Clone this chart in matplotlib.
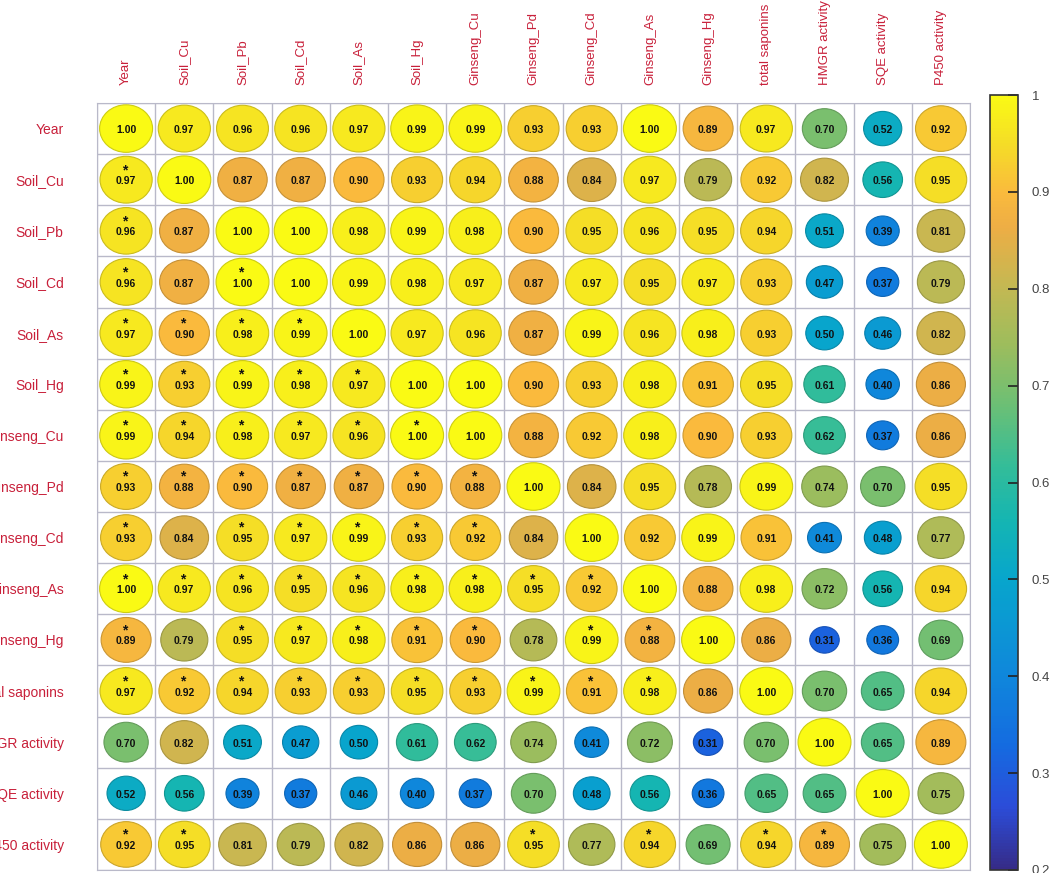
import numpy as np
import matplotlib
matplotlib.use("Agg")
import matplotlib.pyplot as plt
from matplotlib.patches import Ellipse
from matplotlib.colors import LinearSegmentedColormap, Normalize

plt.rcParams['font.family'] = ['Liberation Sans', 'DejaVu Sans']

labels = ['Year', 'Soil_Cu', 'Soil_Pb', 'Soil_Cd', 'Soil_As', 'Soil_Hg',
          'Ginseng_Cu', 'Ginseng_Pd', 'Ginseng_Cd', 'Ginseng_As', 'Ginseng_Hg',
          'total saponins', 'HMGR activity', 'SQE activity', 'P450 activity']

# upper triangle (row i, columns i..14)
upper = [
    [1.00, 0.97, 0.96, 0.96, 0.97, 0.99, 0.99, 0.93, 0.93, 1.00, 0.89, 0.97, 0.70, 0.52, 0.92],
    [1.00, 0.87, 0.87, 0.90, 0.93, 0.94, 0.88, 0.84, 0.97, 0.79, 0.92, 0.82, 0.56, 0.95],
    [1.00, 1.00, 0.98, 0.99, 0.98, 0.90, 0.95, 0.96, 0.95, 0.94, 0.51, 0.39, 0.81],
    [1.00, 0.99, 0.98, 0.97, 0.87, 0.97, 0.95, 0.97, 0.93, 0.47, 0.37, 0.79],
    [1.00, 0.97, 0.96, 0.87, 0.99, 0.96, 0.98, 0.93, 0.50, 0.46, 0.82],
    [1.00, 1.00, 0.90, 0.93, 0.98, 0.91, 0.95, 0.61, 0.40, 0.86],
    [1.00, 0.88, 0.92, 0.98, 0.90, 0.93, 0.62, 0.37, 0.86],
    [1.00, 0.84, 0.95, 0.78, 0.99, 0.74, 0.70, 0.95],
    [1.00, 0.92, 0.99, 0.91, 0.41, 0.48, 0.77],
    [1.00, 0.88, 0.98, 0.72, 0.56, 0.94],
    [1.00, 0.86, 0.31, 0.36, 0.69],
    [1.00, 0.70, 0.65, 0.94],
    [1.00, 0.65, 0.89],
    [1.00, 0.75],
    [1.00],
]

# columns marked with * in the lower triangle, per row
signif = [[], [0], [0], [0, 2], [0, 1, 2, 3], [0, 1, 2, 3, 4], [0, 1, 2, 3, 4, 5],
          [0, 1, 2, 3, 4, 5, 6], [0, 2, 3, 4, 5, 6], [0, 1, 2, 3, 4, 5, 6, 7, 8],
          [0, 2, 3, 4, 5, 6, 8, 9], [0, 1, 2, 3, 4, 5, 6, 7, 8, 9], [], [],
          [0, 1, 7, 9, 11, 12]]

n = len(labels)
corr = np.zeros((n, n))
for i, row in enumerate(upper):
    corr[i, i:] = row
corr = corr + corr.T - np.diag(np.diag(corr))

# parula-like colour map
nodes = [
    (0.00, (0.21, 0.17, 0.53)),
    (0.08, (0.17, 0.30, 0.85)),
    (0.16, (0.08, 0.42, 0.88)),
    (0.25, (0.06, 0.53, 0.86)),
    (0.375, (0.03, 0.65, 0.80)),
    (0.45, (0.08, 0.71, 0.70)),
    (0.52, (0.20, 0.74, 0.60)),
    (0.60, (0.42, 0.75, 0.46)),
    (0.68, (0.62, 0.74, 0.36)),
    (0.76, (0.78, 0.72, 0.32)),
    (0.83, (0.93, 0.68, 0.27)),
    (0.875, (0.98, 0.73, 0.24)),
    (0.94, (0.96, 0.87, 0.15)),
    (1.00, (0.98, 0.98, 0.08)),
]
parula = LinearSegmentedColormap.from_list('parula_like', nodes)
norm = Normalize(vmin=0.2, vmax=1.0)

fig = plt.figure(figsize=(10.52, 8.73), dpi=100)
ax = fig.add_axes([97 / 1052, 3 / 873, 873 / 1052, 767 / 873])

grid_col = '#b9b9c9'
for k in range(n + 1):
    ax.axhline(k, color=grid_col, lw=1.0, zorder=1)
    ax.axvline(k, color=grid_col, lw=1.0, zorder=1)

for i in range(n):
    for j in range(n):
        r = corr[i, j]
        c = np.array(parula(norm(r)))
        s = np.sqrt(r)
        e = Ellipse((j + 0.5, i + 0.5), 0.91 * s, 0.93 * s,
                    facecolor=c, edgecolor=c[:3] * 0.82, lw=0.8, zorder=2)
        ax.add_patch(e)
        ax.text(j + 0.5, i + 0.53, f'{r:.2f}', ha='center', va='center',
                fontsize=7.5, fontweight='bold', color='#111111', zorder=3)
        if j in signif[i]:
            ax.text(j + 0.47, i + 0.31, '*', ha='center', va='center',
                    fontsize=10, fontweight='bold', color='#111111', zorder=3)

ax.set_xlim(0, n)
ax.set_ylim(n, 0)
ax.set_xticks(np.arange(n) + 0.5)
ax.set_xticklabels(labels, rotation=90, fontsize=9.5, color='#c8203a')
ax.set_yticks(np.arange(n) + 0.5)
ax.set_yticklabels(labels, fontsize=10, color='#c8203a')
ax.xaxis.tick_top()
ax.tick_params(axis='x', length=0, pad=13)
ax.tick_params(axis='y', length=0, pad=24)
for sp in ax.spines.values():
    sp.set_color(grid_col)

cax = fig.add_axes([990 / 1052, 3 / 873, 28 / 1052, 775 / 873])
sm = plt.cm.ScalarMappable(cmap=parula, norm=norm)
cb = fig.colorbar(sm, cax=cax)
cb.set_ticks([0.2, 0.3, 0.4, 0.5, 0.6, 0.7, 0.8, 0.9, 1.0])
cb.set_ticklabels(['0.2', '0.3', '0.4', '0.5', '0.6', '0.7', '0.8', '0.9', '1'])
cax.tick_params(direction='in', length=7, width=1.2, labelsize=9.5, color='#222222',
                labelcolor='#444444', pad=10)
cb.outline.set_edgecolor('#333333')
cb.outline.set_linewidth(1.2)

fig.savefig('out.png', dpi=100)
